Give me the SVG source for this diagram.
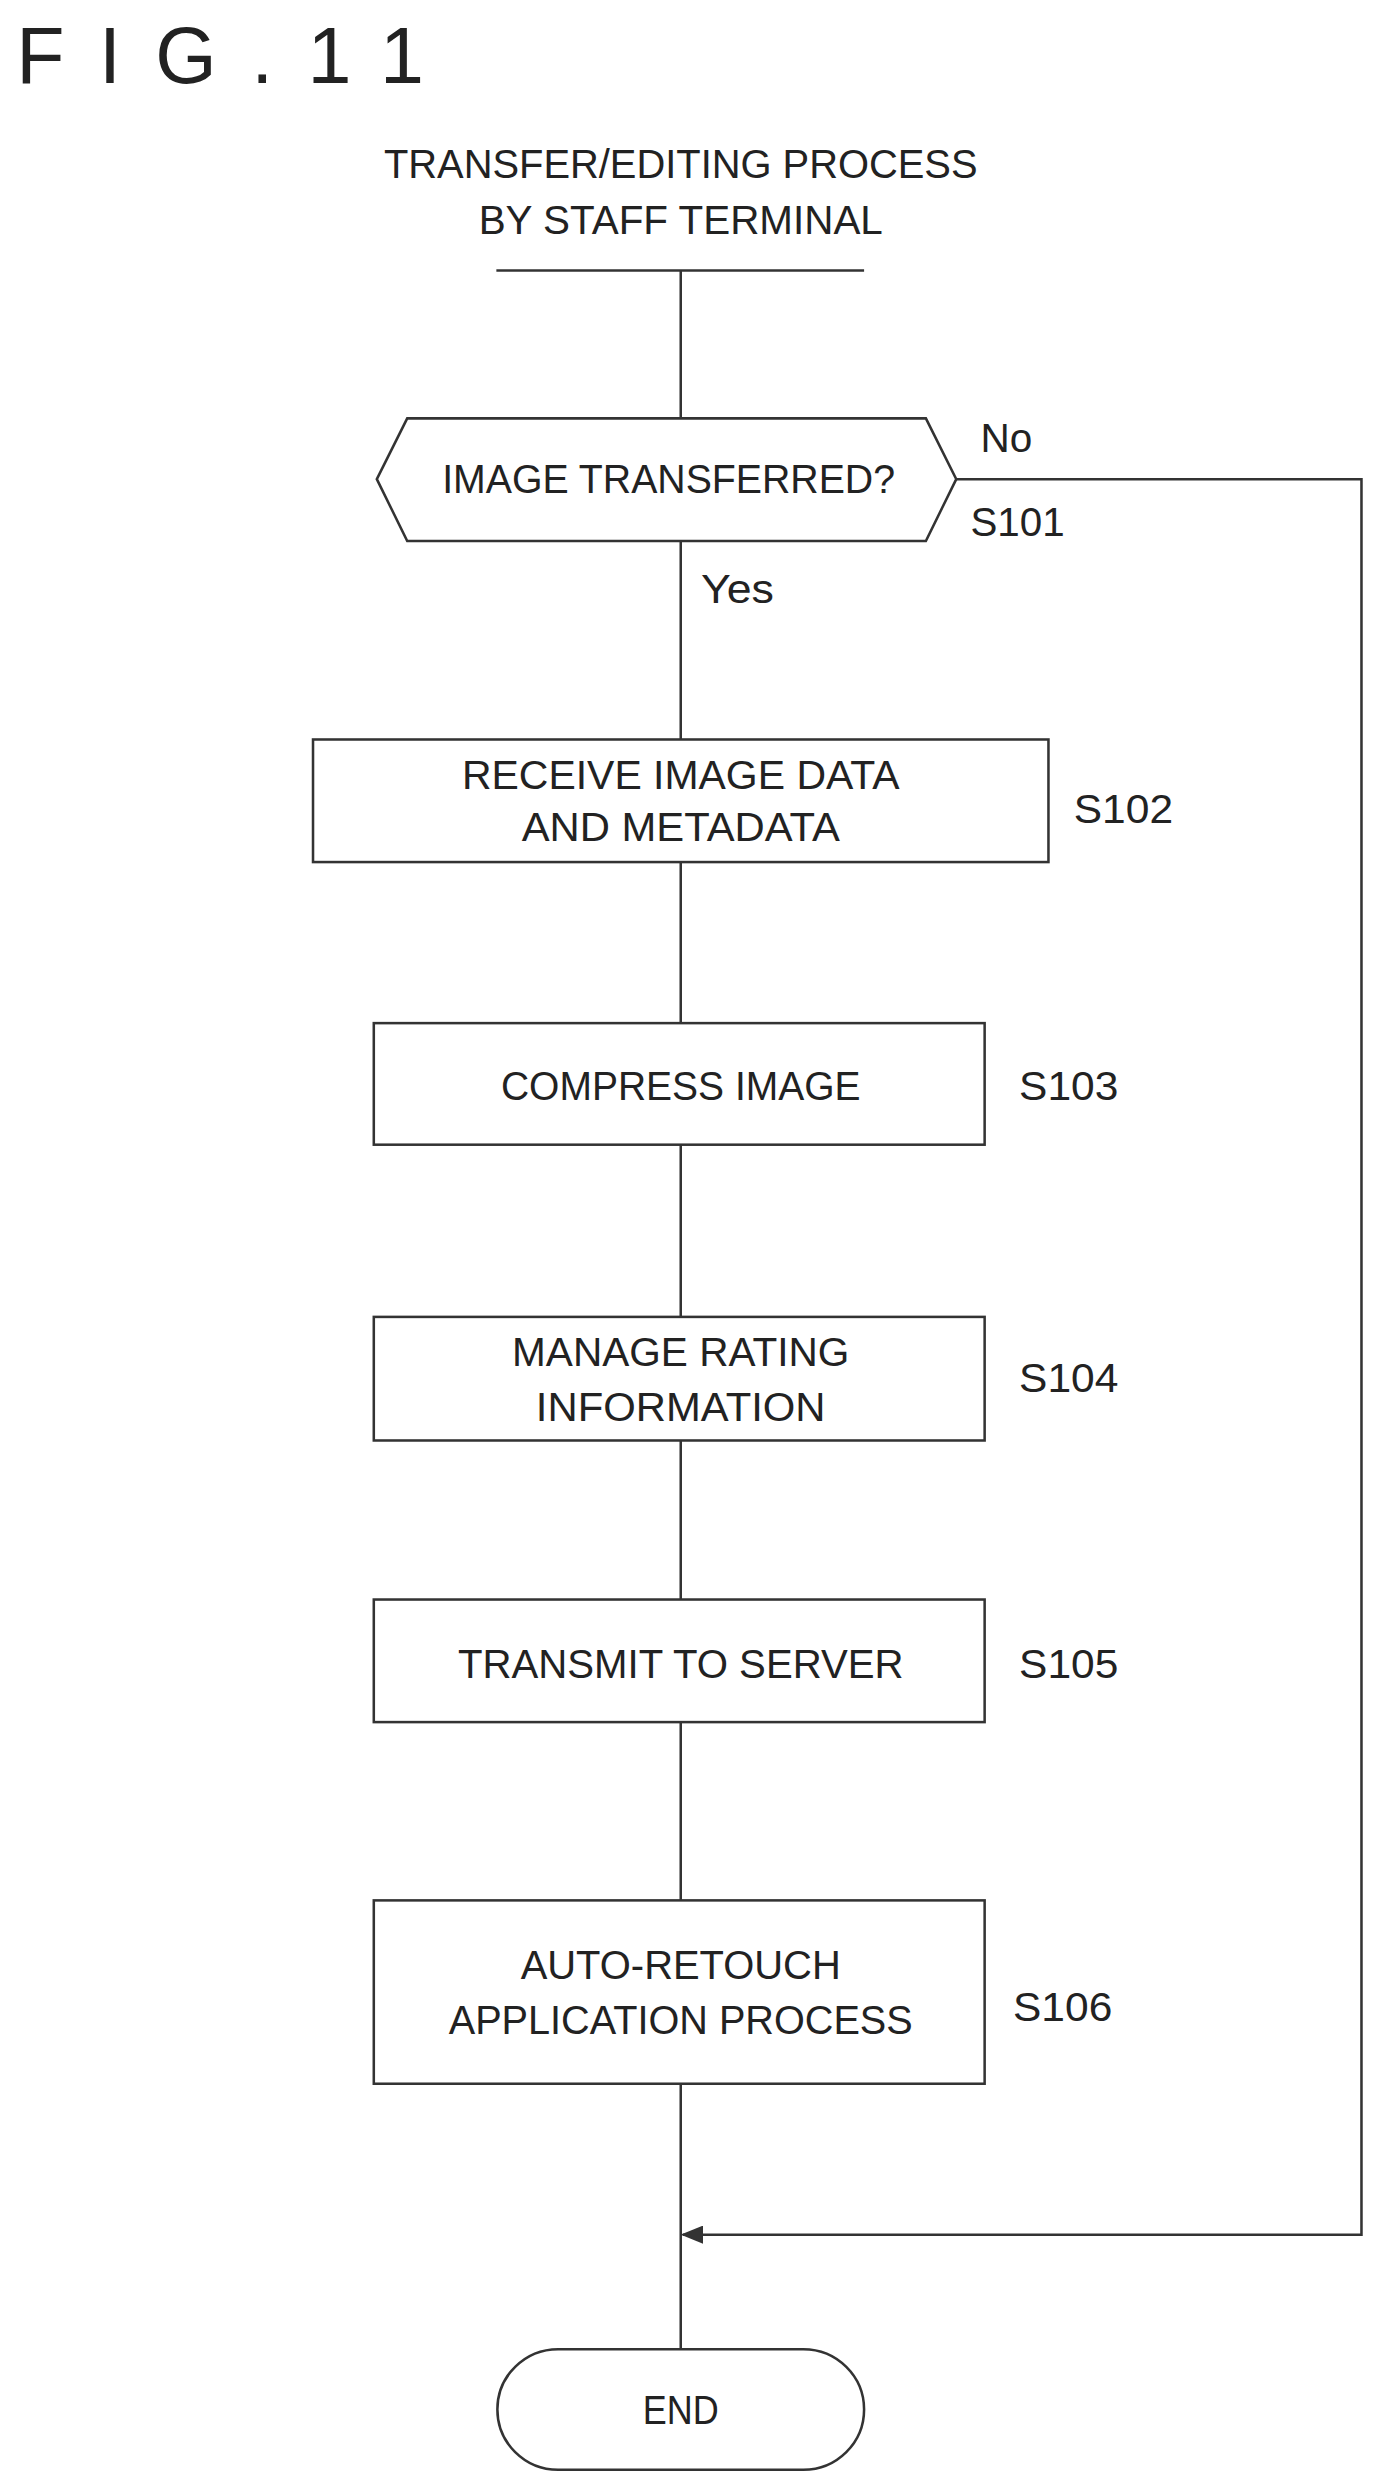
<svg xmlns="http://www.w3.org/2000/svg" width="1382" height="2492" viewBox="0 0 1382 2492">
<style>
text{font-family:"Liberation Sans","DejaVu Sans",sans-serif;font-size:40px;fill:#222}
.c{text-anchor:middle}
.b{fill:#fff;stroke:#333;stroke-width:2.5}
.l{fill:none;stroke:#333;stroke-width:2.5}
</style>
<defs><marker id="a" markerWidth="22" markerHeight="18" refX="20" refY="9" orient="auto" markerUnits="userSpaceOnUse"><path d="M0,0L22,9L0,18z" fill="#333"/></marker></defs>
<rect width="1382" height="2492" fill="#fff"/>
<g transform="scale(1.013)">
<text x="16" y="82" style="font-size:78px;letter-spacing:34px">FIG.11</text>
<text class="c" x="672" y="176" textLength="586" lengthAdjust="spacingAndGlyphs">TRANSFER/EDITING PROCESS</text>
<text class="c" x="672" y="231" textLength="399" lengthAdjust="spacingAndGlyphs">BY STAFF TERMINAL</text>
<g id="connectors">
<line class="l" x1="490" y1="267" x2="853" y2="267"/>
<line class="l" x1="672" y1="267" x2="672" y2="2319"/>
<polyline class="l" points="944,473 1344,473 1344,2206 674,2206" marker-end="url(#a)"/>
<text x="968" y="446">No</text>
<text x="692" y="595" textLength="72" lengthAdjust="spacingAndGlyphs">Yes</text>
</g>
<g id="S101"><polygon class="b" points="372,473 402,413 914,413 944,473 914,534 402,534"/>
<text class="c" x="660" y="487" textLength="447" lengthAdjust="spacingAndGlyphs">IMAGE TRANSFERRED?</text>
<text x="958" y="529" textLength="93" lengthAdjust="spacingAndGlyphs">S101</text></g>
<g id="S102"><rect class="b" x="309" y="730" width="726" height="121"/>
<text class="c" x="672" y="779" textLength="432" lengthAdjust="spacingAndGlyphs">RECEIVE IMAGE DATA</text>
<text class="c" x="672" y="830" textLength="314" lengthAdjust="spacingAndGlyphs">AND METADATA</text>
<text x="1060" y="812" textLength="98" lengthAdjust="spacingAndGlyphs">S102</text></g>
<g id="S103"><rect class="b" x="369" y="1010" width="603" height="120"/>
<text class="c" x="672" y="1086" textLength="355" lengthAdjust="spacingAndGlyphs">COMPRESS IMAGE</text>
<text x="1006" y="1086" textLength="98" lengthAdjust="spacingAndGlyphs">S103</text></g>
<g id="S104"><rect class="b" x="369" y="1300" width="603" height="122"/>
<text class="c" x="672" y="1348" textLength="333" lengthAdjust="spacingAndGlyphs">MANAGE RATING</text>
<text class="c" x="672" y="1403" textLength="286" lengthAdjust="spacingAndGlyphs">INFORMATION</text>
<text x="1006" y="1374" textLength="98" lengthAdjust="spacingAndGlyphs">S104</text></g>
<g id="S105"><rect class="b" x="369" y="1579" width="603" height="121"/>
<text class="c" x="672" y="1656" textLength="440" lengthAdjust="spacingAndGlyphs">TRANSMIT TO SERVER</text>
<text x="1006" y="1656" textLength="98" lengthAdjust="spacingAndGlyphs">S105</text></g>
<g id="S106"><rect class="b" x="369" y="1876" width="603" height="181"/>
<text class="c" x="672" y="1954" textLength="316" lengthAdjust="spacingAndGlyphs">AUTO-RETOUCH</text>
<text class="c" x="672" y="2008" textLength="458" lengthAdjust="spacingAndGlyphs">APPLICATION PROCESS</text>
<text x="1000" y="1995" textLength="98" lengthAdjust="spacingAndGlyphs">S106</text></g>
<g id="END"><rect class="b" x="491" y="2319" width="362" height="119" rx="60"/>
<text class="c" x="672" y="2393" textLength="75" lengthAdjust="spacingAndGlyphs">END</text></g>
</g>
</svg>
